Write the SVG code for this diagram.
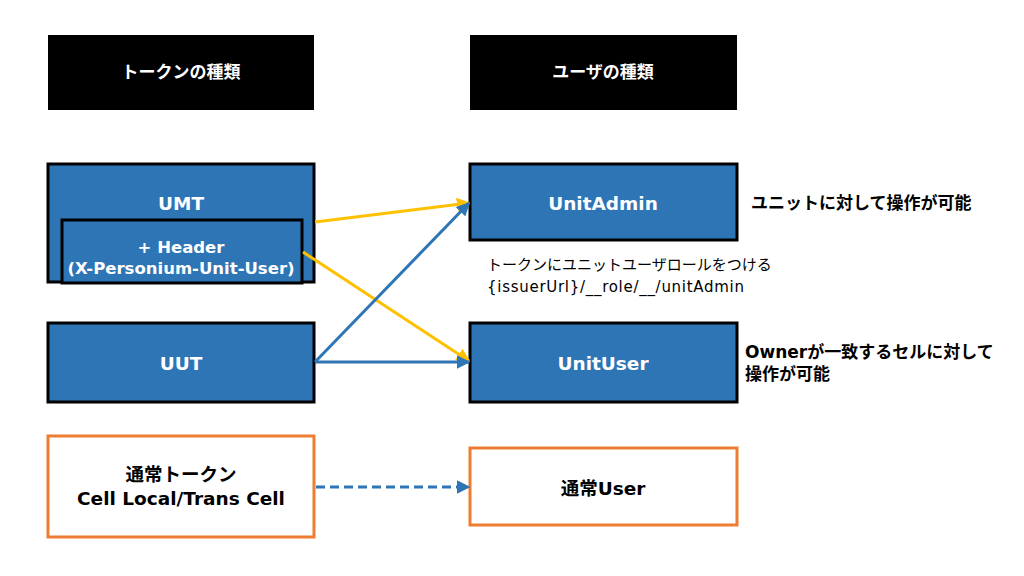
<svg xmlns="http://www.w3.org/2000/svg" width="1024" height="576" viewBox="0 0 1024 576">
<style>
.hdr{fill:#000}
.blue{fill:#2E75B6;stroke:#000;stroke-width:3}
.orange{fill:#fff;stroke:#ED7D31;stroke-width:3}
text{font-family:"DejaVu Sans","Noto Sans CJK JP",sans-serif;text-anchor:middle;dominant-baseline:central}
.wt{fill:#fff;font-weight:bold;font-size:18.5px}
.bt{fill:#000;font-weight:bold;font-size:18.5px}
.note{fill:#000;font-size:15px;text-anchor:start}
.bnote{fill:#000;font-weight:bold;font-size:17px;text-anchor:start}
.y{stroke:#FFC000;stroke-width:3;fill:none}
.b{stroke:#2E75B6;stroke-width:3;fill:none}
</style>
<defs>
<marker id="ay" viewBox="0 0 10 10" refX="9" refY="5" markerWidth="4.5" markerHeight="4.5" orient="auto" markerUnits="strokeWidth"><path d="M0,0 L10,5 L0,10 z" fill="#FFC000"/></marker>
<marker id="ab" viewBox="0 0 10 10" refX="9" refY="5" markerWidth="4.5" markerHeight="4.5" orient="auto" markerUnits="strokeWidth"><path d="M0,0 L10,5 L0,10 z" fill="#2E75B6"/></marker>
</defs>
<rect width="1024" height="576" fill="#fff"/>
<g id="hdr-token"><rect class="hdr" x="48" y="35" width="266" height="75"/><text class="wt" x="181" y="72" style="font-size:17px">トークンの種類</text></g>
<g id="hdr-user"><rect class="hdr" x="470" y="35" width="267" height="75"/><text class="wt" x="603" y="72" style="font-size:17px">ユーザの種類</text></g>
<g id="umt"><rect class="blue" x="48" y="164" width="266" height="118"/><text class="wt" x="181" y="203">UMT</text>
<rect class="blue" x="62" y="220" width="240" height="63"/><text class="wt" x="181" y="247" style="font-size:16.5px">+ Header</text><text class="wt" x="181" y="268" style="font-size:16.5px">(X-Personium-Unit-User)</text></g>
<g id="uut"><rect class="blue" x="48" y="323" width="266" height="79"/><text class="wt" x="181" y="363">UUT</text></g>
<g id="normal-token"><rect class="orange" x="48" y="436" width="266" height="101"/><text class="bt" x="181" y="474">通常トークン</text><text class="bt" x="181" y="498">Cell Local/Trans Cell</text></g>
<g id="unitadmin"><rect class="blue" x="470" y="164" width="267" height="76"/><text class="wt" x="603" y="203">UnitAdmin</text></g>
<g id="unituser"><rect class="blue" x="470" y="323" width="267" height="79"/><text class="wt" x="603" y="363">UnitUser</text></g>
<g id="normal-user"><rect class="orange" x="470" y="448" width="267" height="77"/><text class="bt" x="603" y="488">通常User</text></g>
<g id="notes">
<text class="note" x="487" y="265">トークンにユニットユーザロールをつける</text>
<text class="note" x="487" y="287" textLength="257" lengthAdjust="spacing">{issuerUrl}/__role/__/unitAdmin</text>
<text class="bnote" x="751" y="203">ユニットに対して操作が可能</text>
<text class="bnote" x="745" y="352">Ownerが一致するセルに対して</text>
<text class="bnote" x="745" y="374">操作が可能</text>
</g>
<g id="connectors">
<line class="y" x1="315" y1="222" x2="469" y2="203" marker-end="url(#ay)"/>
<line class="y" x1="303" y1="252" x2="469" y2="361" marker-end="url(#ay)"/>
<line class="b" x1="315" y1="362" x2="469" y2="203" marker-end="url(#ab)"/>
<line class="b" x1="315" y1="362" x2="469" y2="362" marker-end="url(#ab)"/>
<line class="b" x1="316" y1="487" x2="469" y2="487" stroke-dasharray="9,5" marker-end="url(#ab)"/>
</g>
</svg>
